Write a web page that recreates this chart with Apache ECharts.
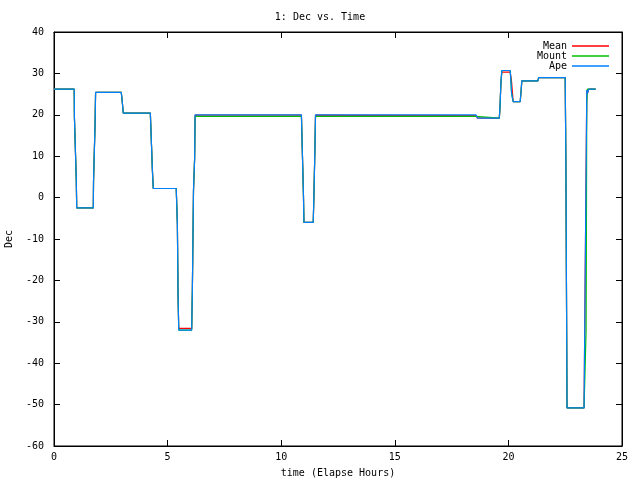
<!DOCTYPE html>
<html><head><meta charset="utf-8">
<script src="https://cdn.jsdelivr.net/npm/echarts@6/dist/echarts.min.js"></script>
<style>html,body{margin:0;padding:0;background:#fff}#c{width:640px;height:480px}</style>
</head><body><div id="c"></div>
<script>
const chartTitle = "1: Dec vs. Time";
const seriesNames = ["Mean", "Mount", "Ape"];
const xTickValues = [0, 5, 10, 15, 20, 25];
const yTickValues = [-60, -50, -40, -30, -20, -10, 0, 10, 20, 30, 40];

const apeT = [0, 0.89, 0.9, 0.98, 1.0, 1.73, 1.74, 1.81, 1.83, 2.96, 2.99, 3.05, 4.24, 4.27, 4.33, 4.37, 5.38, 5.43, 5.46, 5.49, 6.06, 6.09, 6.14, 6.19, 6.21, 10.89, 10.92, 10.98, 11.0, 11.41, 11.44, 11.49, 11.51, 18.57, 18.64, 19.6, 19.63, 19.67, 19.71, 20.08, 20.14, 20.21, 20.52, 20.56, 20.59, 21.3, 21.33, 22.5, 22.53, 22.58, 23.33, 23.42, 23.45, 23.48, 23.54, 23.84];
const apeV = [26.2, 26.2, 19.1, 4.5, -2.5, -2.5, 4.0, 18.3, 25.4, 25.4, 24.0, 20.4, 20.4, 15.9, 6.7, 2.2, 2.2, -6.4, -23.4, -32.0, -32.0, -22.4, 1.8, 9.5, 20.0, 20.0, 13.4, 0.5, -6.0, -6.0, 0.5, 13.4, 20.0, 20.0, 19.2, 19.2, 21.8, 27.6, 30.7, 30.7, 25.2, 23.2, 23.2, 25.8, 28.2, 28.2, 29.0, 29.0, 9.1, -50.8, -50.8, 6.7, 26.0, 25.2, 26.2, 26.2];
const meanV = [26.2, 26.2, 19.1, 4.5, -2.5, -2.5, 4.0, 18.3, 25.4, 25.4, 24.0, 20.4, 20.4, 15.9, 6.7, 2.2, 2.2, -6.4, -23.4, -31.6, -31.6, -22.4, 1.8, 9.5, 19.9, 19.9, 13.4, 0.5, -6.0, -6.0, 0.5, 13.4, 19.9, 19.8, 19.2, 19.2, 21.8, 27.6, 30.3, 30.3, 28.0, 23.2, 23.2, 25.8, 28.2, 28.2, 29.0, 29.0, 9.1, -50.8, -50.8, 6.7, 26.0, 25.2, 26.2, 26.2];
const mountV = [26.2, 26.2, 19.1, 4.5, -2.5, -2.5, 4.0, 18.3, 25.4, 25.4, 24.0, 20.4, 20.4, 15.9, 6.7, 2.2, 2.2, -6.4, -23.4, -32.0, -32.0, -22.4, 1.8, 9.5, 19.6, 19.6, 13.4, 0.5, -6.0, -6.0, 0.5, 13.4, 19.6, 19.6, 19.2, 19.2, 21.8, 27.6, 30.7, 30.7, 25.2, 23.2, 23.2, 25.8, 28.2, 28.2, 29.0, 29.0, 9.1, -50.8, -50.8, -32.0, 23.0, 26.2, 26.2, 26.2];

const pairs = (t, v) => t.map((x, i) => [x, v[i]]);
const font = "'DejaVu Sans Mono', monospace";
const colors = ['#ff0000', '#00c000', '#0080ff'];
const vals = [meanV, mountV, apeV];

const chart = echarts.init(document.getElementById('c'));
const axisCommon = {
  axisLine: {show: true, onZero: false, lineStyle: {color: '#000', width: 1}},
  axisTick: {show: true, inside: true, length: 6, lineStyle: {color: '#000'}},
  splitLine: {show: false}
};
chart.setOption({
  animation: false,
  backgroundColor: '#fff',
  title: {text: chartTitle, left: 'center', top: 7, textStyle: {fontFamily: font, fontSize: 10, fontWeight: 'normal', color: '#000'}},
  legend: {
    orient: 'vertical', right: 26, top: 36, align: 'right', itemGap: 0,
    itemWidth: 37, itemHeight: 11, icon: 'path://M0,5 L37,5 L37,6.5 L0,6.5 Z',
    textStyle: {fontFamily: font, fontSize: 10, color: '#000'},
    data: seriesNames
  },
  grid: {left: 54, right: 18, top: 32, bottom: 34, show: true, borderColor: '#000', borderWidth: 1, outerBoundsMode: 'none', containLabel: false},
  xAxis: [
    Object.assign({type: 'value', min: 0, max: 25, interval: 5, name: 'time (Elapse Hours)', nameLocation: 'middle', nameGap: 22,
      nameTextStyle: {fontFamily: font, fontSize: 10, color: '#000'},
      axisLabel: {fontFamily: font, fontSize: 10, color: '#000', margin: 6}}, axisCommon),
    Object.assign({type: 'value', position: 'top', min: 0, max: 25, interval: 5, axisLabel: {show: false}}, axisCommon)
  ],
  yAxis: [
    Object.assign({type: 'value', min: -60, max: 40, interval: 10, name: 'Dec', nameLocation: 'middle', nameGap: 40,
      nameTextStyle: {fontFamily: font, fontSize: 10, color: '#000'},
      axisLabel: {fontFamily: font, fontSize: 10, color: '#000', margin: 10}}, axisCommon),
    Object.assign({type: 'value', position: 'right', min: -60, max: 40, interval: 10, axisLabel: {show: false}}, axisCommon)
  ],
  series: seriesNames.map((n, i) => ({
    name: n, type: 'line', data: pairs(apeT, vals[i]), showSymbol: false, symbol: 'none',
    lineStyle: {color: colors[i], width: 1.2}, itemStyle: {color: colors[i]}, z: 2 + i
  }))
});
</script></body></html>
